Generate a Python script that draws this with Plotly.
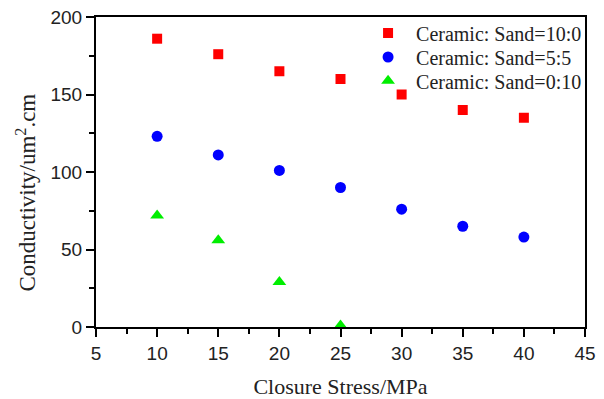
import plotly.graph_objects as go

stress = [10, 15, 20, 25, 30, 35, 40]
ceramic_10_0 = [186, 176, 165, 160, 150, 140, 135]
ceramic_5_5 = [123, 111, 101, 90, 76, 65, 58]
stress_0_10 = [10, 15, 20, 25]
ceramic_0_10 = [72, 56, 29, 1]

names = ["Ceramic: Sand=10:0", "Ceramic: Sand=5:5", "Ceramic: Sand=0:10"]

fig = go.Figure()
fig.add_trace(go.Scatter(x=stress, y=ceramic_10_0, mode="markers", name=names[0], legend="legend",
                         marker=dict(symbol="square", size=10, color="#ff0000")))
fig.add_trace(go.Scatter(x=stress, y=ceramic_5_5, mode="markers", name=names[1], legend="legend2",
                         marker=dict(symbol="circle", size=11, color="#0000ff")))
fig.add_trace(go.Scatter(x=stress_0_10, y=ceramic_0_10, mode="markers", name=names[2], legend="legend3",
                         marker=dict(symbol="triangle-up", size=12, color="#00ee00")))

axis_common = dict(showline=True, linecolor="black", linewidth=2, mirror=True,
                   ticks="outside", ticklen=8, tickwidth=2, tickcolor="black",
                   showgrid=False, zeroline=False, automargin=False,
                   tickfont=dict(family="Liberation Sans, Arial", size=19, color="#222"))

title_font = dict(family="Liberation Serif, Times New Roman", size=22, color="#222")

fig.update_xaxes(range=[5, 45], dtick=5, tick0=5,
                 minor=dict(ticks="outside", ticklen=5, tickwidth=2, tickcolor="black", dtick=2.5, showgrid=False),
                 title=dict(text="Closure Stress/MPa", font=title_font, standoff=17),
                 **axis_common)
fig.update_yaxes(range=[0, 200], dtick=50,
                 minor=dict(ticks="outside", ticklen=5, tickwidth=2, tickcolor="black", dtick=25, showgrid=False),
                 **axis_common)

fig.add_annotation(text="Conductivity/um<sup>2</sup>.cm", xref="paper", yref="paper",
                   x=-0.143, y=0.434, xanchor="center", yanchor="middle", textangle=-90,
                   showarrow=False, font=dict(family="Liberation Serif, Times New Roman", size=23, color="#222"))

leg_common = dict(x=0.54, xanchor="left", yanchor="middle", bgcolor="rgba(0,0,0,0)", itemwidth=46,
                  font=dict(family="Liberation Serif, Times New Roman", size=20, color="#222"))

fig.update_layout(
    width=604, height=399,
    margin=dict(l=96, r=19, t=17, b=72),
    plot_bgcolor="white", paper_bgcolor="white",
    showlegend=True,
    legend=dict(y=0.948, **leg_common),
    legend2=dict(y=0.871, **leg_common),
    legend3=dict(y=0.794, **leg_common),
)

fig.write_html("out.html", config={"displayModeBar": False},
               post_script="document.body.style.margin='0';")
